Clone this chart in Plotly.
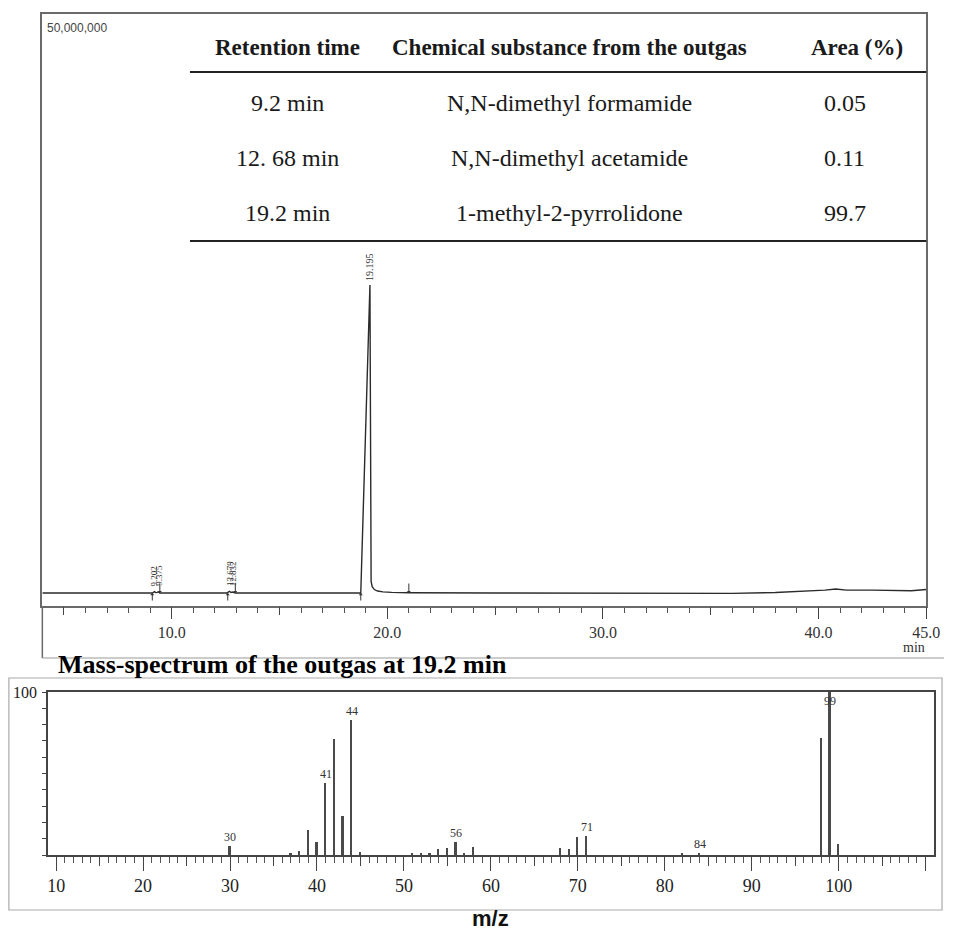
import plotly.graph_objects as go

W, H = 958, 930

# ---------------- data ----------------
# chromatogram (retention time in min, signal in counts)
rt_min = [4.0, 8.0, 9.1, 9.2, 9.26, 9.33, 9.375, 9.45, 10.5, 12.55, 12.62, 12.68, 12.75,
          12.83, 12.95, 15.0, 18.6, 18.77, 19.195, 19.25, 19.3, 19.4, 19.55, 19.8, 20.2,
          21.0, 25.0, 30.0, 34.0, 36.0, 38.0, 39.5, 40.3, 40.8, 41.3, 42.5, 43.5, 44.3, 45.0]
signal_m = [0, 0, 0, 0.12, 0.04, 0.06, 0.1, 0, 0, 0, 0.08, 0.15, 0.05,
            0.09, 0, 0, 0, 0, 26.6, 1.0, 0.55, 0.3, 0.17, 0.1, 0.06,
            0.03, 0.0, 0.0, -0.05, -0.03, 0.05, 0.15, 0.25, 0.35, 0.25, 0.25, 0.2, 0.2, 0.3]
signal = [v * 1e6 for v in signal_m]

peak_labels_rt = [9.202, 9.375, 12.679, 12.832, 19.195]
peak_labels_txt = ["9.202", "9.375", "12.679", "12.832", "19.195"]
peak_start_rt = [9.1, 12.6, 18.77]
peak_end_rt = [9.45, 12.95, 21.0]

chrom_ticks = [10, 20, 30, 40, 45]
chrom_ticktext = ["10.0", "20.0", "30.0", "40.0", "45.0"]

# table
tbl_header = ["Retention time", "Chemical substance from the outgas", "Area (%)"]
tbl_rt = ["9.2 min", "12. 68 min", "19.2 min"]
tbl_sub = ["N,N-dimethyl formamide", "N,N-dimethyl acetamide", "1-methyl-2-pyrrolidone"]
tbl_area = ["0.05", "0.11", "99.7"]

# mass spectrum
mz = [30, 37, 38, 39, 40, 41, 42, 43, 44, 45, 51, 52, 53, 54, 55, 56, 57, 58,
      68, 69, 70, 71, 82, 84, 98, 99, 100]
rel_int = [5.5, 1.4, 2.7, 15.3, 7.8, 44, 71.4, 24, 82.7, 2, 0.8, 1.4, 1.4, 3.5, 4, 8, 1.4, 5,
           4.5, 3.7, 10.8, 11.6, 0.8, 1.4, 72, 100, 7]
ms_labels = [30, 41, 44, 56, 71, 84, 99]
ms_ticks = [10, 20, 30, 40, 50, 60, 70, 80, 90, 100, 110]
ms_ticktext = ["10", "20", "30", "40", "50", "60", "70", "80", "90", "100", ""]

# ---------------- helpers ----------------
def px(x):
    return x / W

def py(y):
    return 1 - y / H

SERIF = "Liberation Serif, Times New Roman, serif"
SANS = "Liberation Sans, Arial, sans-serif"
FRAME = "#6a6a6a"
INK = "#1a1a1a"

fig = go.Figure()

fig.add_trace(go.Scatter(x=rt_min, y=signal, mode="lines",
                         line=dict(color="#2b2b2b", width=1.4),
                         xaxis="x", yaxis="y", hoverinfo="skip", showlegend=False))
fig.add_trace(go.Scatter(x=[rt_min[0]], y=[signal[0]], mode="markers",
                         marker=dict(opacity=0), xaxis="x3", yaxis="y",
                         hoverinfo="skip", showlegend=False))

fig.add_trace(go.Bar(x=mz, y=rel_int, width=0.2, marker=dict(color="#4a4a4a", line=dict(width=0)),
                     xaxis="x2", yaxis="y2", hoverinfo="skip", showlegend=False))
fig.add_trace(go.Scatter(x=[mz[0]], y=[0], mode="markers", marker=dict(opacity=0),
                         xaxis="x4", yaxis="y2", hoverinfo="skip", showlegend=False))

ann = []
for t, s in zip(peak_labels_rt, peak_labels_txt):
    near = min(range(len(rt_min)), key=lambda i: abs(rt_min[i] - t))
    big = signal[near] > 5e6
    ann.append(dict(x=t, y=signal[near] if big else 0, xref="x", yref="y",
                    text=s, textangle=-90, showarrow=False,
                    yanchor="bottom", xanchor="center",
                    yshift=2 if big else 5,
                    font=dict(family=SERIF, size=10 if big else 9, color="#333")))
for t in peak_start_rt:
    ann.append(dict(x=t, y=0, xref="x", yref="y", ax=0, ay=9, showarrow=True,
                    arrowhead=1, arrowsize=0.7, arrowwidth=1, arrowcolor="#333", text=""))
for t in peak_end_rt:
    ann.append(dict(x=t, y=0, xref="x", yref="y", ax=0, ay=-11, showarrow=True,
                    arrowhead=1, arrowsize=0.7, arrowwidth=1, arrowcolor="#333", text=""))

ann.append(dict(x=px(45), y=py(28), xref="paper", yref="paper", text="50,000,000",
                showarrow=False, xanchor="left", yanchor="middle",
                font=dict(family=SANS, size=12, color="#444")))
ann.append(dict(x=px(928), y=py(647), xref="paper", yref="paper", text="min",
                showarrow=False, xanchor="center", yanchor="middle",
                font=dict(family=SERIF, size=14, color="#333")))

col_x = [291, 578, 857]
head_x = [291, 578, 870]
for cx, txt in zip(head_x, tbl_header):
    ann.append(dict(x=px(cx), y=py(47), xref="paper", yref="paper", text="<b>%s</b>" % txt,
                    showarrow=False, xanchor="center", yanchor="middle",
                    font=dict(family=SERIF, size=23, color=INK)))
row_y = [103, 158, 213]
for ry, a, b, c in zip(row_y, tbl_rt, tbl_sub, tbl_area):
    for cx, txt in zip(col_x, (a, b, c)):
        ann.append(dict(x=px(cx), y=py(ry), xref="paper", yref="paper", text=txt,
                        showarrow=False, xanchor="center", yanchor="middle",
                        font=dict(family=SERIF, size=24, color=INK)))

for m in ms_labels:
    v = rel_int[mz.index(m)]
    ann.append(dict(x=m, y=v, xref="x2", yref="y2", text=str(m), showarrow=False,
                    xanchor="center", yanchor="middle", yshift=9 if v < 95 else -9,
                    font=dict(family=SERIF, size=12, color="#333")))

ann.append(dict(x=px(286), y=py(664), xref="paper", yref="paper",
                text="<b>Mass-spectrum of the outgas at 19.2 min</b>", showarrow=False,
                xanchor="center", yanchor="middle",
                font=dict(family=SERIF, size=26, color="#000")))
ann.append(dict(x=px(24), y=py(692), xref="paper", yref="paper", text="100", showarrow=False,
                xanchor="center", yanchor="middle",
                font=dict(family=SERIF, size=16, color="#222")))
ann.append(dict(x=px(497), y=py(918), xref="paper", yref="paper", text="<b>m/z</b>",
                showarrow=False, xanchor="center", yanchor="middle",
                font=dict(family=SANS, size=22, color="#111")))

shapes = []
for ly in (72, 241):
    shapes.append(dict(type="line", xref="paper", yref="paper", x0=px(192), x1=px(940),
                       y0=py(ly), y1=py(ly), line=dict(color="#222", width=2)))
shapes.append(dict(type="line", xref="paper", yref="paper", x0=px(42), x1=px(42),
                   y0=py(606), y1=py(658), line=dict(color=FRAME, width=1.5)))
shapes.append(dict(type="line", xref="paper", yref="paper", x0=px(42), x1=px(958),
                   y0=py(658), y1=py(658), line=dict(color="#999", width=1.2)))
shapes.append(dict(type="rect", xref="paper", yref="paper", x0=px(8), x1=px(956),
                   y0=py(910), y1=py(678), line=dict(color="#aaa", width=1.2)))

x_dom_c = [px(42), px(940)]
y_dom_c = [py(606), py(14)]
x_dom_m = [px(48), px(948)]
y_dom_m = [py(855), py(692)]

tickfont_c = dict(family=SERIF, size=16, color="#333")
tickfont_m = dict(family=SERIF, size=18, color="#222")

fig.update_layout(
    width=W, height=H, margin=dict(l=0, r=0, t=0, b=0),
    paper_bgcolor="white", plot_bgcolor="white",
    bargap=0,
    xaxis=dict(domain=x_dom_c, range=[4.0, 45.0], anchor="y",
               showline=True, linecolor=FRAME, linewidth=1.5, mirror=True,
               showgrid=False, zeroline=False,
               tickmode="array", tickvals=chrom_ticks, ticktext=chrom_ticktext,
               ticks="outside", ticklen=11, tickwidth=1.3, tickcolor="#444",
               tickfont=tickfont_c,
               minor=dict(dtick=1, tick0=0, ticks="outside", ticklen=5, tickwidth=1, tickcolor="#555")),
    xaxis3=dict(domain=x_dom_c, range=[4.0, 45.0], overlaying="x", anchor="y", side="bottom",
                showline=False, showgrid=False, zeroline=False,
                tickmode="linear", tick0=0, dtick=5, ticks="outside", ticklen=8,
                tickwidth=1.2, tickcolor="#444", showticklabels=False),
    yaxis=dict(domain=y_dom_c, range=[-1.12e6, 50e6], anchor="x",
               showline=True, linecolor=FRAME, linewidth=1.5, mirror=True,
               showgrid=False, zeroline=False, showticklabels=False, ticks=""),
    xaxis2=dict(domain=x_dom_m, range=[9.094, 110.98], anchor="y2",
                showline=True, linecolor="#444", linewidth=1.5, mirror=True,
                showgrid=False, zeroline=False,
                tickmode="array", tickvals=ms_ticks, ticktext=ms_ticktext,
                ticks="outside", ticklen=14, tickwidth=1.3, tickcolor="#444",
                tickfont=tickfont_m,
                minor=dict(dtick=1, tick0=0, ticks="outside", ticklen=6, tickwidth=1, tickcolor="#555")),
    xaxis4=dict(domain=x_dom_m, range=[9.094, 110.98], overlaying="x2", anchor="y2", side="bottom",
                showline=False, showgrid=False, zeroline=False,
                tickmode="linear", tick0=0, dtick=5, ticks="outside", ticklen=10,
                tickwidth=1.2, tickcolor="#444", showticklabels=False),
    yaxis2=dict(domain=y_dom_m, range=[0, 100], anchor="x2",
                showline=True, linecolor="#444", linewidth=1.5, mirror=True,
                showgrid=False, zeroline=False,
                tickmode="linear", tick0=0, dtick=10, ticks="outside", ticklen=4,
                tickwidth=1.2, tickcolor="#444", showticklabels=False),
    annotations=ann, shapes=shapes,
)

post = ("document.documentElement.style.margin='0px';"
        "document.documentElement.style.overflow='hidden';"
        "document.body.style.margin='0px';"
        "document.body.style.overflow='hidden';"
        "var gd=document.getElementById('{plot_id}');"
        "var vw=document.documentElement.clientWidth||window.innerWidth;"
        "var vh=document.documentElement.clientHeight||window.innerHeight;"
        "gd.style.width=vw+'px';gd.style.height=vh+'px';"
        "Plotly.relayout(gd,{width:vw,height:vh});")
fig.write_html("out.html", config={"displayModeBar": False}, post_script=post)
